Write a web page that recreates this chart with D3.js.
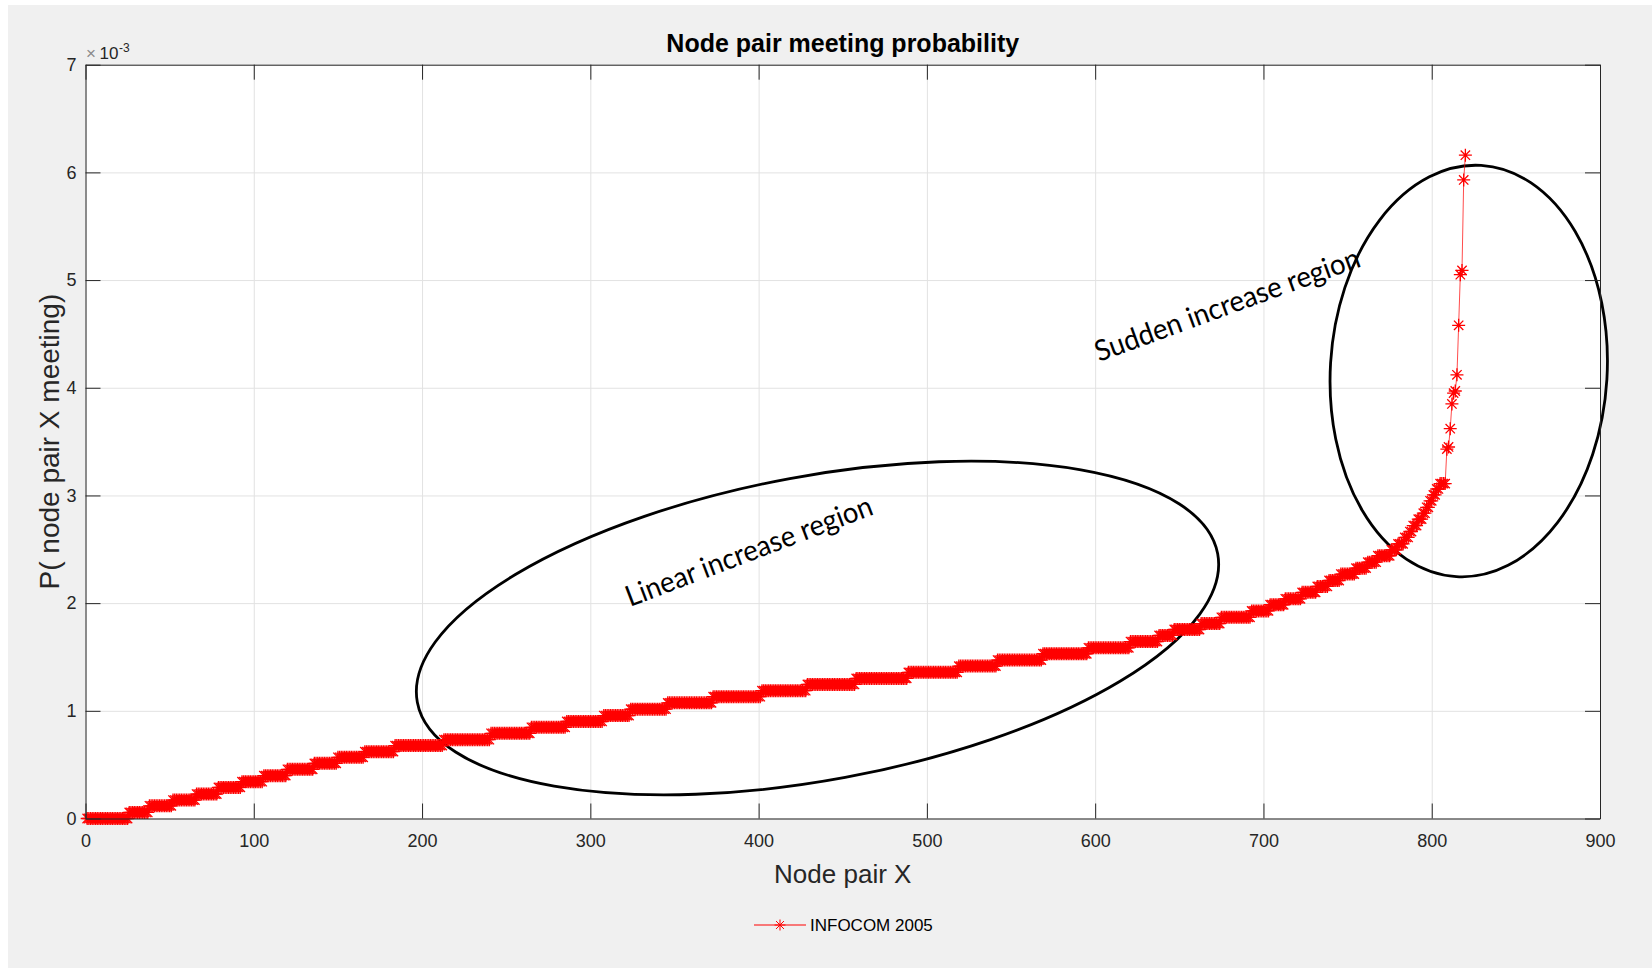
<!DOCTYPE html>
<html>
<head>
<meta charset="utf-8">
<script src="https://cdn.jsdelivr.net/npm/d3@7"></script>
<style>
  body { margin: 0; background: #ffffff; }
  svg { display: block; }
</style>
</head>
<body>
<script>
// Sorted meeting probabilities (x 1e-3), stored as steps: each level value and how many node pairs sit on it
const stepValues = [
  0, 0.056, 0.118, 0.171, 0.227, 0.289, 0.342, 0.398, 0.457, 0.512,
  0.568, 0.621, 0.677, 0.732, 0.791, 0.847, 0.901, 0.956, 1.015, 1.074,
  1.131, 1.187, 1.245, 1.301, 1.357, 1.415, 1.471, 1.530, 1.585, 1.643,
  1.700, 1.755, 1.810, 1.868, 1.928, 1.985, 2.04, 2.10, 2.155, 2.21,
  2.27, 2.325, 2.38, 2.44, 2.495, 2.55, 2.61, 2.665, 2.72, 2.78,
  2.835, 2.89, 2.95, 3.005, 3.06, 3.11,
  3.43, 3.45, 3.62, 3.85, 3.95, 3.97, 4.12, 4.58, 5.05, 5.09, 5.93, 6.16
];
const stepCounts = [
  25, 12, 14, 14, 13, 14, 13, 14, 16, 14,
  16, 18, 29, 28, 24, 21, 22, 16, 22, 27,
  29, 27, 29, 31, 30, 23, 27, 27, 25, 17,
  9, 16, 12, 18, 11, 9, 10, 9, 7, 7,
  9, 7, 6, 8, 4, 4, 3, 2, 3, 3,
  2, 2, 2, 2, 2, 4,
  1, 1, 1, 1, 1, 1, 1, 1, 1, 1, 1, 1
];

const xTicks = [0, 100, 200, 300, 400, 500, 600, 700, 800, 900];
const yTicks = [0, 1, 2, 3, 4, 5, 6, 7];

const titleText = 'Node pair meeting probability';
const xLabelText = 'Node pair X';
const yLabelText = 'P( node pair X meeting)';
const seriesName = 'INFOCOM 2005';
const linearNote = 'Linear increase region';
const suddenNote = 'Sudden increase region';

// expand the steps into one point per node pair
const buildSeries = () => {
  const series = [];
  let n = 1;
  for (let i = 0; i < stepValues.length; i++) {
    for (let k = 0; k < stepCounts[i]; k++) {
      series.push({ x: n, y: stepValues[i] });
      n++;
    }
  }
  return series;
};

// matlab style '*' marker: plus and cross on top of each other
const starPath = r => {
  const d = r * 0.72;
  return `M${-r},0L${r},0M0,${-r}L0,${r}M${-d},${-d}L${d},${d}M${-d},${d}L${d},${-d}`;
};

const render = () => {
  const width = 1652;
  const height = 968;
  const margin = { top: 64.7, right: 52, bottom: 149.5, left: 85.5 };
  const innerWidth = width - margin.left - margin.right;
  const innerHeight = height - margin.top - margin.bottom;

  const axisColor = '#262626';
  const gridColor = '#e2e2e2';
  const red = '#ff0000';
  const font = '"Liberation Sans", Arial, Helvetica, sans-serif';

  const dataset = buildSeries();

  const svg = d3.select('body').append('svg')
    .attr('width', width)
    .attr('height', height);

  // figure background
  svg.append('rect')
    .attr('x', 8)
    .attr('y', 5)
    .attr('width', width - 8)
    .attr('height', height - 5)
    .attr('fill', '#f0f0f0');

  const g = svg.append('g')
    .attr('transform', `translate(${margin.left}, ${margin.top})`);

  g.append('rect')
    .attr('width', innerWidth)
    .attr('height', innerHeight)
    .attr('fill', '#ffffff');

  const xScale = d3.scaleLinear().domain([0, 900]).range([0, innerWidth]);
  const yScale = d3.scaleLinear().domain([0, 7]).range([innerHeight, 0]);

  // grid
  g.append('g')
    .attr('class', 'grid')
    .call(d3.axisBottom(xScale).tickValues(xTicks).tickSize(innerHeight).tickFormat(''))
    .call(s => s.select('.domain').remove())
    .call(s => s.selectAll('line').attr('stroke', gridColor));

  g.append('g')
    .attr('class', 'grid')
    .call(d3.axisRight(yScale).tickValues(yTicks).tickSize(innerWidth).tickFormat(''))
    .call(s => s.select('.domain').remove())
    .call(s => s.selectAll('line').attr('stroke', gridColor));

  // annotation ellipses
  const linCx = xScale(435), linCy = yScale(1.769);
  g.append('ellipse')
    .attr('cx', linCx)
    .attr('cy', linCy)
    .attr('rx', 407)
    .attr('ry', 152)
    .attr('transform', `rotate(-10.5, ${linCx}, ${linCy})`)
    .attr('fill', 'none')
    .attr('stroke', '#000')
    .attr('stroke-width', 2.8);

  const supCx = xScale(822), supCy = yScale(4.155);
  g.append('ellipse')
    .attr('cx', supCx)
    .attr('cy', supCy)
    .attr('rx', 138.4)
    .attr('ry', 206)
    .attr('transform', `rotate(3.45, ${supCx}, ${supCy})`)
    .attr('fill', 'none')
    .attr('stroke', '#000')
    .attr('stroke-width', 2.8);

  // series line and markers
  const line = d3.line()
    .x(d => xScale(d.x))
    .y(d => yScale(d.y));

  g.append('path')
    .datum(dataset)
    .attr('d', line)
    .attr('fill', 'none')
    .attr('stroke', red)
    .attr('stroke-opacity', 0.7)
    .attr('stroke-width', 1);

  g.append('g').selectAll('path').data(dataset)
    .enter().append('path')
    .attr('transform', d => `translate(${xScale(d.x)}, ${yScale(d.y)})`)
    .attr('d', starPath(6.5))
    .attr('fill', 'none')
    .attr('stroke', red)
    .attr('stroke-width', 1.3);

  // axes, ticks pointing inward on all four sides
  const styleAxis = s => {
    s.selectAll('.domain').attr('stroke', axisColor);
    s.selectAll('line').attr('stroke', axisColor);
    s.selectAll('text')
      .attr('fill', axisColor)
      .style('font-family', font)
      .style('font-size', '18px');
  };

  g.append('g')
    .attr('transform', `translate(0, ${innerHeight})`)
    .call(d3.axisBottom(xScale).tickValues(xTicks).tickFormat(d3.format('d'))
      .tickSize(-15).tickSizeOuter(0).tickPadding(16))
    .call(styleAxis);

  g.append('g')
    .call(d3.axisTop(xScale).tickValues(xTicks).tickSize(-15).tickSizeOuter(0).tickFormat(''))
    .call(styleAxis);

  g.append('g')
    .call(d3.axisLeft(yScale).tickValues(yTicks).tickFormat(d3.format('d'))
      .tickSize(-15).tickSizeOuter(0).tickPadding(9))
    .call(styleAxis);

  g.append('g')
    .attr('transform', `translate(${innerWidth}, 0)`)
    .call(d3.axisRight(yScale).tickValues(yTicks).tickSize(-15).tickSizeOuter(0).tickFormat(''))
    .call(styleAxis);

  // exponent label
  const expo = g.append('g')
    .style('font-family', font);
  expo.append('text')
    .attr('x', 0.5)
    .attr('y', -5.5)
    .attr('fill', '#8a8a8a')
    .style('font-size', '17px')
    .text('\u00d7');
  expo.append('text')
    .attr('x', 14)
    .attr('y', -5.5)
    .attr('fill', axisColor)
    .style('font-size', '17px')
    .text('10');
  expo.append('text')
    .attr('x', 33.5)
    .attr('y', -12.5)
    .attr('fill', axisColor)
    .style('font-size', '12px')
    .text('-3');

  // title and axis labels
  svg.append('text')
    .attr('x', margin.left + innerWidth / 2)
    .attr('y', 52)
    .attr('text-anchor', 'middle')
    .attr('fill', '#000')
    .style('font-family', font)
    .style('font-weight', 'bold')
    .style('font-size', '25px')
    .text(titleText);

  svg.append('text')
    .attr('x', margin.left + innerWidth / 2)
    .attr('y', 883)
    .attr('text-anchor', 'middle')
    .attr('fill', axisColor)
    .style('font-family', font)
    .style('font-size', '26px')
    .text(xLabelText);

  svg.append('text')
    .attr('transform', `translate(59, ${margin.top + innerHeight / 2}) rotate(-90)`)
    .attr('text-anchor', 'middle')
    .attr('fill', axisColor)
    .style('font-family', font)
    .style('font-size', '28px')
    .text(yLabelText);

  // region notes
  const noteFont = 'Lato, "Open Sans", sans-serif';
  svg.append('text')
    .attr('transform', 'translate(630, 607) rotate(-20.8)')
    .attr('fill', '#000')
    .attr('textLength', 262)
    .attr('lengthAdjust', 'spacingAndGlyphs')
    .style('font-family', noteFont)
    .style('font-size', '29px')
    .text(linearNote);

  svg.append('text')
    .attr('transform', 'translate(1099, 362) rotate(-20)')
    .attr('fill', '#000')
    .attr('textLength', 280)
    .attr('lengthAdjust', 'spacingAndGlyphs')
    .style('font-family', noteFont)
    .style('font-size', '29px')
    .text(suddenNote);

  // legend
  const legend = svg.append('g')
    .attr('transform', 'translate(754, 925)');
  legend.append('line')
    .attr('x1', 0)
    .attr('x2', 52)
    .attr('stroke', red)
    .attr('stroke-width', 1);
  legend.append('path')
    .attr('transform', 'translate(26, 0)')
    .attr('d', starPath(5.5))
    .attr('fill', 'none')
    .attr('stroke', red);
  legend.append('text')
    .attr('x', 56)
    .attr('dy', '0.35em')
    .attr('fill', '#000')
    .style('font-family', font)
    .style('font-size', '17px')
    .text(seriesName);
};

document.addEventListener('DOMContentLoaded', render);
</script>
</body>
</html>
